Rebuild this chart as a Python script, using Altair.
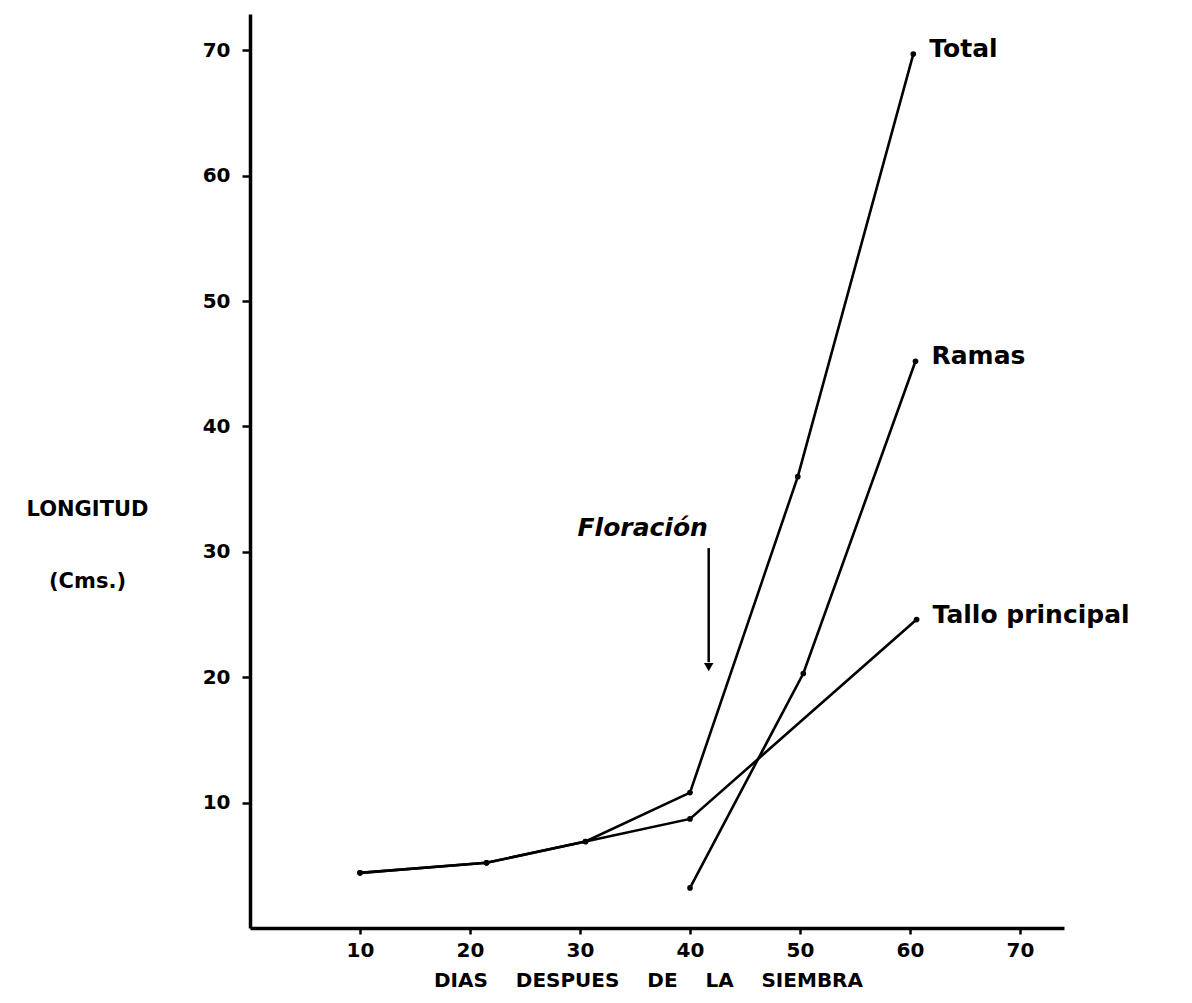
import altair as alt
import pandas as pd

# ---- data ----
days_tallo = [10, 21.5, 30.5, 40, 60.6]
tallo = [4.4, 5.2, 6.9, 8.7, 24.6]

days_total = [10, 21.5, 30.5, 40, 49.8, 60.3]
total = [4.4, 5.2, 6.9, 10.8, 36.0, 69.7]

days_ramas = [40, 50.3, 60.5]
ramas = [3.2, 20.3, 45.2]

series_names = ["Total", "Ramas", "Tallo principal"]

x_ticks = [10, 20, 30, 40, 50, 60, 70]
y_ticks = [10, 20, 30, 40, 50, 60, 70]

flor_text = "Floración"
flor_text_pos = [35.7, 31.9]
flor_arrow_day = 41.7
flor_arrow_top = 30.3
flor_arrow_tip = 20.4

# ---- tables ----
rows = []
for name, ds, vs in [("Total", days_total, total),
                     ("Ramas", days_ramas, ramas),
                     ("Tallo principal", days_tallo, tallo)]:
    for d, v in zip(ds, vs):
        rows.append({"series": name, "day": d, "value": v})
df = pd.DataFrame(rows)

ends = pd.DataFrame({
    "series": series_names,
    "day": [days_total[-1], days_ramas[-1], days_tallo[-1]],
    "value": [total[-1], ramas[-1], tallo[-1]],
})

flor_df = pd.DataFrame({"day": [flor_text_pos[0]], "value": [flor_text_pos[1]], "label": [flor_text]})
arrow_df = pd.DataFrame({"day": [flor_arrow_day], "value": [flor_arrow_top], "value2": [flor_arrow_tip + 0.8]})
head_df = pd.DataFrame({"day": [flor_arrow_day], "value": [flor_arrow_tip + 0.4]})

FONT = "DejaVu Sans"
SP = "\u00a0\u00a0\u00a0\u00a0"

x_axis = alt.Axis(
    values=x_ticks, grid=False,
    title=SP.join(["DIAS", "DESPUES", "DE", "LA", "SIEMBRA"]),
    domainColor="black", domainWidth=3.5,
    tickColor="black", tickWidth=2.5, tickSize=6,
    labelFont=FONT, labelFontWeight="bold", labelFontSize=20, labelColor="black",
    labelPadding=6, labelFlush=False,
    titleFont=FONT, titleFontWeight="bold", titleFontSize=20, titleColor="black",
    titleX=398, titleY=52, titleAlign="center", titleBaseline="middle",
)
y_axis = alt.Axis(
    values=y_ticks, grid=False,
    title=["LONGITUD", "(Cms.)"],
    domainColor="black", domainWidth=3.5,
    tickColor="black", tickWidth=2.5, tickSize=8,
    labelFont=FONT, labelFontWeight="bold", labelFontSize=20, labelColor="black",
    labelPadding=12, labelFlush=False,
    titleFont=FONT, titleFontWeight="bold", titleFontSize=21, titleColor="black",
    titleAngle=0, titleX=-163, titleY=495, titleAlign="center", titleBaseline="middle",
    titleLineHeight=72,
)

xs = alt.Scale(domain=[0, 74], nice=False)
ys = alt.Scale(domain=[0, 72.9], nice=False)

X = alt.X("day:Q", scale=xs, axis=x_axis)
Y = alt.Y("value:Q", scale=ys, axis=y_axis)

lines = alt.Chart(df).mark_line(color="black", strokeWidth=2.6).encode(
    x=X, y=Y, detail="series:N"
)
points = alt.Chart(df).mark_circle(color="black", size=32, opacity=1).encode(
    x=X, y=Y
)
labels = alt.Chart(ends).mark_text(
    align="left", baseline="middle", dx=16, dy=-5,
    font=FONT, fontWeight="bold", fontSize=25, color="black"
).encode(x=X, y=Y, text="series:N")

flor = alt.Chart(flor_df).mark_text(
    align="center", baseline="middle", font=FONT, fontWeight="bold",
    fontStyle="italic", fontSize=25, color="black"
).encode(x=X, y=Y, text="label:N")

arrow = alt.Chart(arrow_df).mark_rule(color="black", strokeWidth=2.5).encode(
    x=X, y=Y, y2="value2:Q"
)
head = alt.Chart(head_df).mark_point(
    shape="triangle-down", filled=True, color="black", size=90, opacity=1
).encode(x=X, y=Y)

chart = alt.layer(lines, points, labels, flor, arrow, head).properties(
    width=814, height=914,
    padding={"left": 242, "top": 6, "right": 120, "bottom": 67},
    autosize=alt.AutoSizeParams(type="none"),
    background="white",
).configure_view(stroke=None)

chart.save("out.html", embed_options={"renderer": "svg", "actions": False})
